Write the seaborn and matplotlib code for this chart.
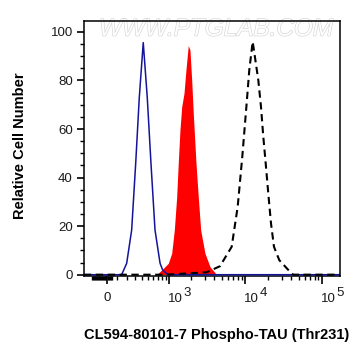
import numpy as np
import pandas as pd
import matplotlib
matplotlib.use("Agg")
import matplotlib.pyplot as plt
import matplotlib.patheffects as pe
import seaborn as sns

# intensities (asinh-like cytometry axis)
blue_x = [-240, 146, 201, 260, 312, 362, 422, 489, 557, 639, 755, 822, 973, 171000]
blue_y = [0, 0, 4.7, 18.4, 45.9, 73, 95.6, 73, 45.9, 18.4, 4.7, 1.9, 0, 0]

red_x = [-240, 676, 837, 982, 1092, 1185, 1275, 1338, 1410, 1488, 1595, 1693, 1817,
         1912, 2016, 2115, 2296, 2459, 2644, 3011, 3497, 4273, 171000]
red_y = [0, 0, 2.6, 4.7, 8.8, 18.4, 32.1, 45.9, 59.6, 69.2, 74.7, 84.3, 94.4,
         92.6, 80.2, 66.5, 45.9, 32.1, 18.4, 8.8, 3.3, 0, 0]

black_x = [-240, 900, 1500, 3168, 4720, 6704, 8024, 9210, 10497, 11357, 12571, 14865,
           16116, 17259, 18547, 20045, 21735, 23764, 27853, 38369, 42343, 171000]
black_y = [0, 0, 0.4, 1.0, 3.5, 11.5, 28, 48.6, 70.6, 84.3, 96, 80.2,
           69.2, 56.9, 45.9, 33.5, 21.2, 11.5, 6, 1.2, 0, 0]

x_major = [0, 1000, 10000, 100000]
x_exponents = ["", "3", "4", "5"]
x_minor = ([v for v in range(-150, 60, 10) if v != 0]
           + list(range(100, 1000, 100)) + list(range(2000, 10000, 1000))
           + list(range(20000, 100000, 10000)))
y_major = [0, 20, 40, 60, 80, 100]
y_minor = list(range(0, 105, 5))

sns.set_style("ticks")
plt.rcParams["font.family"] = ["Liberation Sans", "DejaVu Sans"]

fig = plt.figure(figsize=(3.61, 3.56), dpi=100)
ax = fig.add_axes([0.2327, 0.2247, 0.709, 0.7163])

ax.set_xscale("asinh", linear_width=322)

ax.fill_between(red_x, red_y, 0, color="#ff0000", lw=0, zorder=2)
sns.lineplot(x=blue_x, y=blue_y, sort=False, color="#14149a", lw=1.1, ax=ax, zorder=3)
sns.lineplot(x=black_x, y=black_y, sort=False, color="black", lw=1.5,
             dashes=False, ax=ax, zorder=4)
ax.lines[-1].set_dashes([3.5, 2.2])

ax.set_xlim(-239, 171000)
ax.set_ylim(-0.54, 104.5)

ax.set_xticks(x_major)
ax.set_xticklabels([])
ax.set_xticks(x_minor, minor=True)
ax.set_yticks(y_major)
ax.set_yticks(y_minor, minor=True)

ax.tick_params(axis="y", which="major", direction="out", length=5, width=1.2,
               color="black", labelsize=9.5, labelcolor="#1a1a1a", pad=3)
ax.tick_params(axis="x", which="major", direction="out", length=5.5, width=1.2, color="black")
ax.tick_params(axis="both", which="minor", direction="out", length=3, width=1, color="black")
for s in ax.spines.values():
    s.set_linewidth(1.1)
    s.set_color("black")

# x tick labels: 0, 10^3, 10^4, 10^5 with full-size raised exponents
xt = ax.get_xaxis_transform()
for val, e in zip(x_major, x_exponents):
    if e == "":
        ax.annotate("0", xy=(val, 0), xycoords=xt, xytext=(0, -11.8),
                    textcoords="offset points", ha="center", va="top",
                    fontsize=9.5, color="#1a1a1a", annotation_clip=False)
    else:
        ten = ax.annotate("10", xy=(val, 0), xycoords=xt, xytext=(-0.8, -12.2),
                          textcoords="offset points", ha="left", va="top",
                          fontsize=9.5, color="#1a1a1a", annotation_clip=False)
        ax.annotate(e, xy=(1, 1), xycoords=ten, xytext=(0.4, 4.6),
                    textcoords="offset points", ha="left", va="top",
                    fontsize=9.5, color="#1a1a1a", annotation_clip=False)

ax.set_xlabel("CL594-80101-7 Phospho-TAU (Thr231)", fontsize=10.5, fontweight="bold",
              color="black")
ax.set_ylabel("Relative Cell Number", fontsize=10.5, fontweight="bold", color="black")
ax.xaxis.set_label_coords(0.518, -0.204)
ax.yaxis.set_label_coords(-0.223, 0.51)

ax.text(0.515, 0.968, "WWW.PTGLAB.COM", transform=ax.transAxes, ha="center", va="center",
        fontsize=17.5, style="italic", color="white", zorder=1,
        path_effects=[pe.withStroke(linewidth=0.9, foreground="#d4d4d4")])

fig.savefig("out.png", dpi=100)
